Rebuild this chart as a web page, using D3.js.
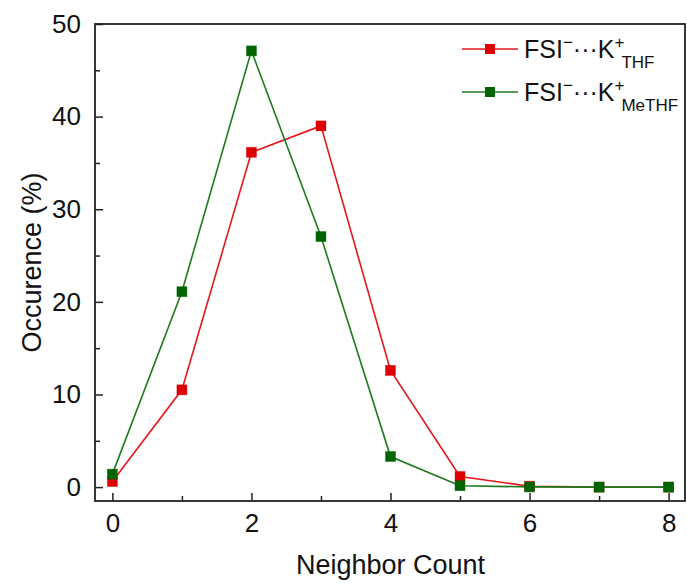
<!DOCTYPE html>
<html>
<head>
<meta charset="utf-8">
<script src="https://cdn.jsdelivr.net/npm/d3@7"></script>
<style>
  html, body { margin: 0; padding: 0; background: #fff; }
  svg { display: block; }
  text { font-family: "Liberation Sans", Arial, sans-serif; fill: #111; }
</style>
</head>
<body>
<svg id="chart" width="687" height="584"></svg>
<script>
// ---- data ----
const neighborCount = [0, 1, 2, 3, 4, 5, 6, 7, 8];
const thfValues     = [0.6, 10.5, 36.15, 39.0, 12.6, 1.15, 0.1, 0.0, 0.0];
const methfValues   = [1.4, 21.1, 47.1, 27.05, 3.3, 0.15, 0.02, 0.0, 0.0];
const xMajorTicks = [0, 2, 4, 6, 8];
const xMinorTicks = [1, 3, 5, 7];
const yMajorTicks = [0, 10, 20, 30, 40, 50];
const yMinorTicks = [5, 15, 25, 35, 45];
const seriesNames = [
  { base: "FSI", sup1: "\u2212", mid: "\u00B7\u00B7\u00B7K", sup2: "+", sub: "THF" },
  { base: "FSI", sup1: "\u2212", mid: "\u00B7\u00B7\u00B7K", sup2: "+", sub: "MeTHF" }
];

const svg = d3.select("#chart");
const margin = { left: 95, right: 1, top: 24, bottom: 83 };
const W = 687, H = 584;
const x = d3.scaleLinear().domain([-0.25, 8.25]).range([margin.left, W - margin.right]);
const y = d3.scaleLinear().domain([-1.5, 50]).range([H - margin.bottom, margin.top]);

const colors = [
  { line: "#e3171b", fill: "#dc0000" },
  { line: "#1d7a1d", fill: "#006400" }
];

const series = [thfValues, methfValues];

// axes (ticks inward)
const fontSize = 26;
svg.append("g").attr("transform", `translate(0,${y.range()[0]})`)
  .call(d3.axisBottom(x).tickValues(xMajorTicks).tickSize(-8).tickPadding(13).tickFormat(d3.format("d")));
svg.append("g").attr("transform", `translate(0,${y.range()[0]})`)
  .call(d3.axisBottom(x).tickValues(xMinorTicks).tickSize(-5).tickFormat(""));
svg.append("g").attr("transform", `translate(${x.range()[0]},0)`)
  .call(d3.axisLeft(y).tickValues(yMajorTicks).tickSize(-8).tickPadding(14).tickFormat(d3.format("d")));
svg.append("g").attr("transform", `translate(${x.range()[0]},0)`)
  .call(d3.axisLeft(y).tickValues(yMinorTicks).tickSize(-5).tickFormat(""));

svg.selectAll(".domain").remove();
svg.selectAll(".tick line").attr("stroke", "#222").attr("stroke-width", 1.5);
svg.selectAll(".tick text").style("font-size", fontSize + "px")
  .style("font-family", '"Liberation Sans", Arial, sans-serif').attr("fill", "#111");

// frame
svg.append("rect")
  .attr("x", x.range()[0]).attr("y", y.range()[1])
  .attr("width", x.range()[1] - x.range()[0] - 1)
  .attr("height", y.range()[0] - y.range()[1])
  .attr("fill", "none").attr("stroke", "#222").attr("stroke-width", 1.8);

// lines & markers
const line = d3.line().x((d, i) => x(neighborCount[i])).y(d => y(d));
const ms = 10;
series.forEach((vals, si) => {
  svg.append("path").datum(vals)
    .attr("d", line).attr("fill", "none")
    .attr("stroke", colors[si].line).attr("stroke-width", 1.6);
  svg.append("g").selectAll("rect").data(vals).join("rect")
    .attr("x", (d, i) => x(neighborCount[i]) - ms / 2)
    .attr("y", d => y(d) - ms / 2)
    .attr("width", ms).attr("height", ms)
    .attr("fill", colors[si].fill)
    .attr("stroke", colors[si].fill).attr("stroke-opacity", 0.5).attr("stroke-width", 0.8);
});

// axis labels
svg.append("text")
  .attr("x", (x.range()[0] + x.range()[1]) / 2).attr("y", 574)
  .attr("text-anchor", "middle").style("font-size", "27px")
  .text("Neighbor Count");
svg.append("text")
  .attr("transform", `translate(41,${(y.range()[0] + y.range()[1]) / 2}) rotate(-90)`)
  .attr("text-anchor", "middle").style("font-size", "27px")
  .text("Occurence (%)");

// legend
const legendRows = [49, 92];
seriesNames.forEach((nm, si) => {
  const ly = legendRows[si];
  svg.append("line").attr("x1", 462).attr("x2", 518).attr("y1", ly).attr("y2", ly)
    .attr("stroke", colors[si].line).attr("stroke-width", 1.6);
  svg.append("rect").attr("x", 490 - ms / 2).attr("y", ly - ms / 2).attr("width", ms).attr("height", ms)
    .attr("fill", colors[si].fill);
  const t = svg.append("text").attr("x", 524).attr("y", ly + 9).style("font-size", "25px");
  t.append("tspan").text(nm.base);
  t.append("tspan").attr("dy", -10).style("font-size", "17px").text(nm.sup1);
  t.append("tspan").attr("dy", 10).text(nm.mid);
  t.append("tspan").attr("dy", -10).style("font-size", "17px").text(nm.sup2);
  t.append("tspan").attr("dy", 20).attr("dx", -3).style("font-size", "17px").text(nm.sub);
});
</script>
</body>
</html>
